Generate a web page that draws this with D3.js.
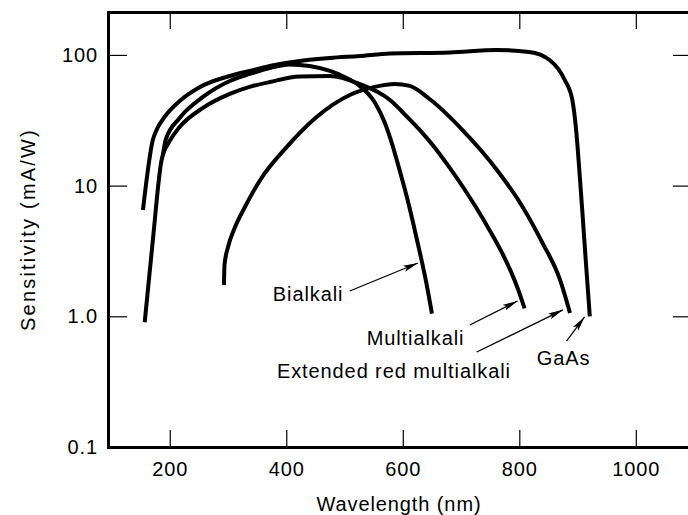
<!DOCTYPE html>
<html lang="en">
<head>
<meta charset="utf-8">
<title>Photocathode sensitivity</title>
<script src="https://d3js.org/d3.v7.min.js"></script>
<style>
  body { margin: 0; background: #fff; }
  svg { display: block; font-family: "Liberation Sans", Arial, Helvetica, sans-serif; }
  .axis text { font-size: 20px; letter-spacing: 0.9px; fill: #000; }
  .axis line { stroke: #000; stroke-width: 1.2px; }
  .axis path { stroke: #000; stroke-width: 3px; }
  .curve { fill: none; stroke: #000; stroke-width: 4px; stroke-linecap: butt; stroke-linejoin: round; }
  .note { font-size: 20px; letter-spacing: 0.9px; }
  .arrow { stroke: #000; stroke-width: 1.2px; }
</style>
</head>
<body>
<div id="chart"></div>
<script>

// curve data, wavelength (nm) and sensitivity (mA/W)
var gaasWl   = [154, 171, 179, 191, 217, 252, 303, 337, 380, 423, 475, 526, 578, 681, 761, 817, 852, 878, 891, 898, 903, 908, 914, 921];
var gaasSens = [6.5, 22.4, 27.6, 33.5, 44.4, 56.9, 69.0, 75.4, 83.8, 89.9, 94.8, 98.2, 102.6, 104.4, 109.1, 105.4, 91.5, 64.3, 45.2, 25.3, 13.2, 6.51, 2.7, 1.0];

var bialkWl   = [188, 193, 217, 257, 303, 337, 372, 406, 440, 475, 500, 526, 552, 569, 583, 595, 607, 617, 629, 640, 650];
var bialkSens = [16.9, 22.4, 32.9, 47.7, 63.2, 71.5, 79.5, 84.6, 82.3, 75.4, 67.8, 57.9, 43.3, 30.4, 19.9, 12.9, 8.18, 5.36, 3.12, 1.84, 1.05];

var multiWl   = [157, 171, 186, 200, 217, 257, 303, 337, 372, 423, 475, 526, 578, 607, 629, 655, 677, 703, 727, 749, 770, 787, 799, 809];
var multiSens = [0.9, 3.84, 15.7, 22.0, 28.1, 39.3, 50.3, 56.9, 62.1, 68.4, 69.0, 59.9, 45.2, 33.8, 26.7, 19.5, 14.4, 9.8, 6.68, 4.56, 3.08, 2.13, 1.56, 1.15];

var extWl   = [293, 294, 300, 310, 329, 355, 401, 452, 509, 552, 586, 612, 646, 703, 761, 806, 840, 870, 887];
var extSens = [1.74, 2.47, 3.39, 4.58, 6.86, 11.0, 19.8, 33.5, 49.4, 56.9, 59.9, 57.9, 46.0, 26.5, 13.3, 6.84, 3.63, 1.90, 1.06];

var xTicks = [200, 400, 600, 800, 1000];
var yTicks = [0.1, 1, 10, 100];
var yTickLabels = ["0.1", "1.0", "10", "100"];

// labels with arrows: text anchor, arrow tail, arrow tip (data units)
var noteNames = ["Bialkali", "Multialkali", "Extended red multialkali", "GaAs"];
var noteText  = [[377, 1.31], [538, 0.603], [384, 0.337], [830, 0.424]];
var noteTail  = [[509, 1.56], [715, 0.858], [727, 0.533], [881, 0.647]];
var noteTip   = [[626, 2.56], [797, 1.31], [875, 1.12], [912, 0.99]];

var width = 688, height = 515;
var plotLeft = 108, plotRight = 690, plotTop = 12, plotBottom = 447;

var svg = d3.select("#chart").append("svg")
  .attr("width", width)
  .attr("height", height);

var x = d3.scaleLinear().domain([94, 1093]).range([plotLeft, plotRight]);
var y = d3.scaleLog().domain([0.1, 213]).range([plotBottom, plotTop]);

svg.append("defs").append("marker")
  .attr("id", "head")
  .attr("markerUnits", "userSpaceOnUse")
  .attr("viewBox", "0 0 15 8")
  .attr("refX", 15).attr("refY", 4)
  .attr("markerWidth", 15).attr("markerHeight", 8)
  .attr("orient", "auto")
  .append("path")
  .attr("d", "M0,0.8 L15,4 L0,7.2 L3,4 Z")
  .attr("fill", "#000");

// frame and ticks (all ticks point inward)
svg.append("g").attr("class", "axis")
  .attr("transform", "translate(0," + plotBottom + ")")
  .call(d3.axisBottom(x).tickValues(xTicks).tickSize(-17).tickSizeOuter(0).tickPadding(15)
    .tickFormat(d3.format("d")));

svg.append("g").attr("class", "axis")
  .attr("transform", "translate(0," + plotTop + ")")
  .call(d3.axisTop(x).tickValues(xTicks).tickSize(-17).tickSizeOuter(0).tickFormat(""));

svg.append("g").attr("class", "axis")
  .attr("transform", "translate(" + plotLeft + ",0)")
  .call(d3.axisLeft(y).tickValues(yTicks).tickSize(-19).tickSizeOuter(0).tickPadding(10)
    .tickFormat(function(d, i) { return yTickLabels[i]; }));

svg.append("g").attr("class", "axis")
  .attr("transform", "translate(" + plotRight + ",0)")
  .call(d3.axisRight(y).tickValues(yTicks).tickSize(-17).tickSizeOuter(0).tickFormat(""));

svg.selectAll(".axis .domain").attr("stroke-linecap", "square");

// curves
var series = [
  { name: "GaAs", wl: gaasWl, s: gaasSens },
  { name: "Bialkali", wl: bialkWl, s: bialkSens },
  { name: "Multialkali", wl: multiWl, s: multiSens },
  { name: "Extended red multialkali", wl: extWl, s: extSens }
];

var line = d3.line()
  .x(function(d) { return x(d[0]); })
  .y(function(d) { return y(d[1]); })
  .curve(d3.curveMonotoneX);

svg.selectAll(".curve")
  .data(series)
  .enter()
  .append("path")
  .attr("class", "curve")
  .attr("d", function(d) { return line(d3.zip(d.wl, d.s)); });

// annotations
var notes = noteNames.map(function(n, i) {
  return { name: n, at: noteText[i], from: noteTail[i], to: noteTip[i] };
});

svg.selectAll(".arrow")
  .data(notes)
  .enter()
  .append("line")
  .attr("class", "arrow")
  .attr("x1", function(d) { return x(d.from[0]); })
  .attr("y1", function(d) { return y(d.from[1]); })
  .attr("x2", function(d) { return x(d.to[0]); })
  .attr("y2", function(d) { return y(d.to[1]); })
  .attr("marker-end", "url(#head)");

svg.selectAll(".note")
  .data(notes)
  .enter()
  .append("text")
  .attr("class", "note")
  .attr("x", function(d) { return x(d.at[0]); })
  .attr("y", function(d) { return y(d.at[1]); })
  .text(function(d) { return d.name; });

// axis titles
svg.append("text")
  .attr("x", (plotLeft + plotRight) / 2)
  .attr("y", 511)
  .attr("text-anchor", "middle")
  .style("font-size", "20px")
  .style("letter-spacing", "0.9px")
  .text("Wavelength (nm)");

svg.append("text")
  .attr("transform", "translate(35," + ((plotTop + plotBottom) / 2) + ") rotate(-90)")
  .attr("text-anchor", "middle")
  .style("font-size", "20px")
  .style("letter-spacing", "2.2px")
  .text("Sensitivity (mA/W)");

</script>
</body>
</html>
